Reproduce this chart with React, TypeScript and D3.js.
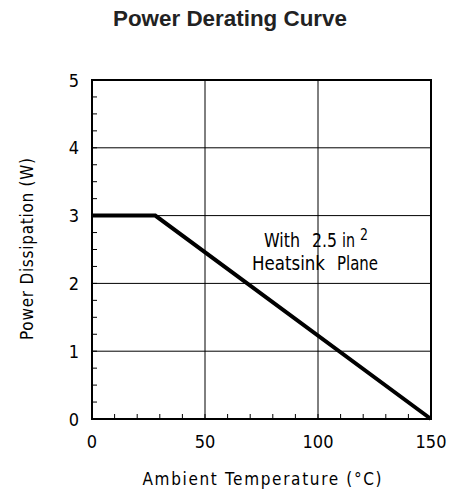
import React from "react";
import * as d3 from "d3";

const temps = [0, 28, 150];
const power = [3, 3, 0];
const xTicks = [0, 50, 100, 150];
const yTicks = [0, 1, 2, 3, 4, 5];
const xMinor = d3.range(0, 151, 10);
const yMinor = d3.range(0, 5.01, 0.25);

const W = 450, H = 494;
const m = { left: 92, right: 431, top: 80, bottom: 419 };

export default function App() {
  const x = d3.scaleLinear().domain([0, 150]).range([m.left, m.right]);
  const y = d3.scaleLinear().domain([0, 5]).range([m.bottom, m.top]);
  const line = d3.line<number>().x((d, i) => x(temps[i])).y((d) => y(d));
  const font = "'DejaVu Sans Condensed', 'DejaVu Sans', sans-serif";
  const fs = { fontFamily: font, fontStretch: "condensed" as const };
  return (
    <svg width={W} height={H} style={{ position: "absolute", left: 0, top: 0, background: "#fff" }}>
      <text x={230} y={26} textAnchor="middle" fontFamily="'Liberation Sans', Arial, sans-serif" fontWeight="bold" fontSize={21.5} fill="#222" textLength={234} lengthAdjust="spacingAndGlyphs">Power Derating Curve</text>
      {xTicks.slice(1, -1).map((t) => (
        <line key={"gx" + t} x1={x(t)} x2={x(t)} y1={m.top} y2={m.bottom} stroke="#000" strokeWidth={1} />
      ))}
      {yTicks.slice(1, -1).map((t) => (
        <line key={"gy" + t} x1={m.left} x2={m.right} y1={y(t)} y2={y(t)} stroke="#000" strokeWidth={1} />
      ))}
      {xMinor.map((t) => (
        <line key={"mx" + t} x1={x(t)} x2={x(t)} y1={m.bottom} y2={m.bottom - 5} stroke="#000" strokeWidth={1} />
      ))}
      {yMinor.map((t) => (
        <line key={"my" + t} x1={m.left} x2={m.left + 5} y1={y(t)} y2={y(t)} stroke="#000" strokeWidth={1} />
      ))}
      <rect x={m.left} y={m.top} width={m.right - m.left} height={m.bottom - m.top} fill="none" stroke="#000" strokeWidth={2} />
      <path d={line(power) || ""} fill="none" stroke="#000" strokeWidth={4} strokeLinejoin="miter" />
      {yTicks.map((t) => (
        <text key={"ly" + t} x={79} y={y(t) + 6.5} textAnchor="end" style={fs} fontSize={18}>{t}</text>
      ))}
      {xTicks.map((t) => (
        <text key={"lx" + t} x={x(t)} y={448} textAnchor="middle" style={fs} fontSize={18}>{t}</text>
      ))}
      <text x={262} y={485} textAnchor="middle" style={fs} fontSize={17} textLength={239} lengthAdjust="spacing">Ambient Temperature (°C)</text>
      <text transform="translate(33,249) rotate(-90)" textAnchor="middle" style={fs} fontSize={17} textLength={182} lengthAdjust="spacing">Power Dissipation (W)</text>
      <text x={264} y={247} style={fs} fontSize={20} textLength={36} lengthAdjust="spacingAndGlyphs">With</text>
      <text x={312} y={247} style={fs} fontSize={20} textLength={25} lengthAdjust="spacingAndGlyphs">2.5</text>
      <text x={342} y={247} style={fs} fontSize={20} textLength={13} lengthAdjust="spacingAndGlyphs">in</text>
      <text x={360} y={240} style={fs} fontSize={15} textLength={8} lengthAdjust="spacingAndGlyphs">2</text>
      <text x={252} y={270} style={fs} fontSize={20} textLength={73} lengthAdjust="spacingAndGlyphs">Heatsink</text>
      <text x={337} y={270} style={fs} fontSize={20} textLength={41} lengthAdjust="spacingAndGlyphs">Plane</text>
    </svg>
  );
}
